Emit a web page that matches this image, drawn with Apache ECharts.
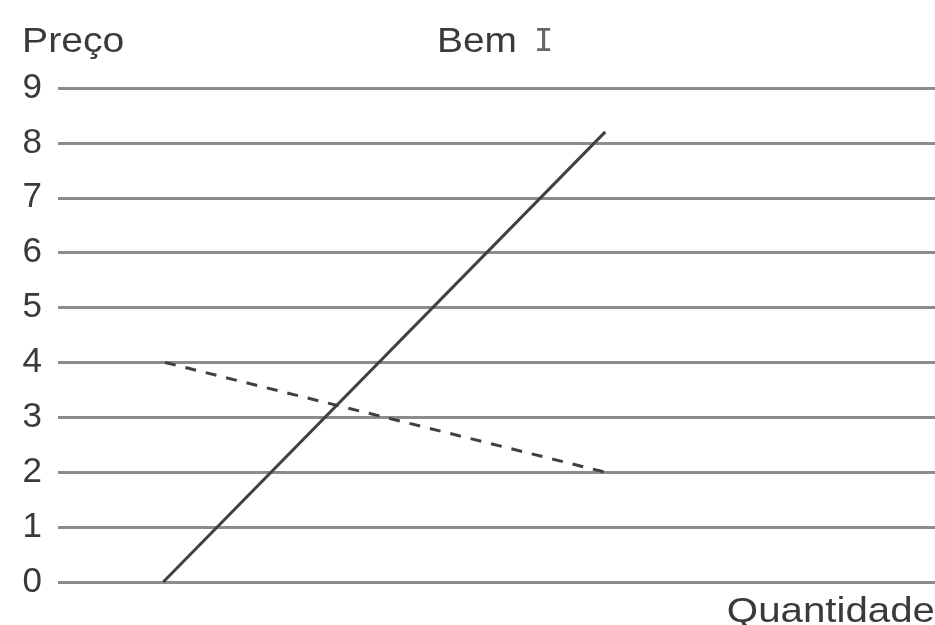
<!DOCTYPE html>
<html>
<head>
<meta charset="utf-8">
<script src="https://cdn.jsdelivr.net/npm/echarts@6/dist/echarts.min.js"></script>
<style>html,body{margin:0;padding:0;background:#fff}#c{width:935px;height:625px}</style>
</head>
<body>
<div id="c"></div>
<script>
// Data
const yTicks = [0, 1, 2, 3, 4, 5, 6, 7, 8, 9];
const solidQuantity = [1.2, 6.24];
const solidPrice = [0, 8.2];
const dashedQuantity = [1.22, 6.24];
const dashedPrice = [4, 2];

const chart = echarts.init(document.getElementById('c'), null, {renderer: 'canvas'});
const font = 'Liberation Sans, Arial, sans-serif';
const toPairs = (xs, ys) => xs.map((x, i) => [x, ys[i]]);
const txtColor = '#3a3a3a';

chart.setOption({
  animation: false,
  backgroundColor: '#fff',
  grid: {left: 58, right: 0, top: 88, bottom: 43, containLabel: false},
  xAxis: {
    type: 'value', min: 0, max: 10,
    axisLine: {show: false}, axisTick: {show: false}, axisLabel: {show: false}, splitLine: {show: false}
  },
  yAxis: {
    type: 'value', min: 0, max: 9, interval: 1,
    axisLine: {show: false}, axisTick: {show: false},
    axisLabel: {
      margin: 16, fontFamily: font, fontSize: 35, color: txtColor,
      formatter: v => yTicks.includes(v) ? String(v) : ''
    },
    splitLine: {show: true, lineStyle: {color: '#8c8c8c', width: 3}}
  },
  graphic: [
    {type: 'text', x: 22, y: 25, scaleX: 1.12,
     style: {text: 'Preço', font: '35px ' + font, fill: txtColor, align: 'left', verticalAlign: 'top'}},
    {type: 'text', x: 437, y: 25, scaleX: 1.11,
     style: {text: 'Bem', font: '35px ' + font, fill: txtColor, align: 'left', verticalAlign: 'top'}},
    {type: 'text', x: 534, y: 27, scaleX: 1.0,
     style: {text: 'I', font: '32px DejaVu Sans Mono, monospace', fill: '#666', align: 'left', verticalAlign: 'top'}},
    {type: 'text', x: 935, y: 595, scaleX: 1.15,
     style: {text: 'Quantidade', font: '35px ' + font, fill: txtColor, align: 'right', verticalAlign: 'top'}}
  ],
  series: [
    {
      type: 'line', data: toPairs(solidQuantity, solidPrice), symbol: 'none',
      lineStyle: {color: '#404040', width: 3}
    },
    {
      type: 'line', data: toPairs(dashedQuantity, dashedPrice), symbol: 'none',
      lineStyle: {color: '#404040', width: 3, type: [11, 10]}
    }
  ]
});
</script>
</body>
</html>
